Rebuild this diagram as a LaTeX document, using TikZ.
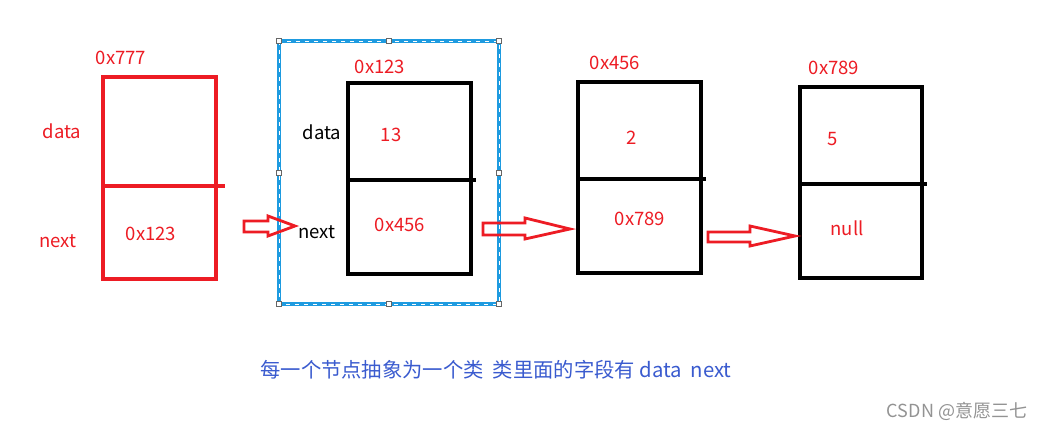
\documentclass[tikz,border=0pt]{standalone}
\usepackage{fontspec}
\setmainfont{Noto Sans CJK SC}
\begin{document}
\begin{tikzpicture}[x=1pt,y=-1pt,
  lbl/.style={inner sep=0pt,font=\fontsize{18.5}{22}\selectfont},
  redt/.style={lbl,text=myred},
  box/.style={draw,line width=3.3pt,inner sep=0pt},
  harrow/.style={draw=myred,line width=2.8pt,line join=miter},
  handle/.style={draw=gray!80!black,fill=white,line width=0.7pt,minimum size=5pt,inner sep=0pt}]
\definecolor{myred}{HTML}{ED1C24}
\definecolor{myblue}{HTML}{3A5BCF}
\definecolor{selblue}{HTML}{1E9BE0}
\useasboundingbox (0,0) rectangle (1048,431);
\fill[white] (0,0) rectangle (1048,431);

% selection frame
\draw[selblue,line width=3.2pt] (279,41) rectangle (499,304);
\draw[white,line width=0.7pt,dash pattern=on 4pt off 5pt] (279,41) rectangle (499,304);
\foreach \p [count=\i] in {(279,41),(389,41),(499,41),(279,173),(499,173),(279,304),(389,304),(499,304)}
  \node[handle] (h\i) at \p {};

% box 1 (red)
\node[box,draw=myred,minimum width=113pt,minimum height=202pt] (b1) at (159.5,178) {};
\draw[myred,line width=3.3pt] (b1.west |- 0,186) -- (225,186);
\node[redt] (a1) at (121,58) {0x777};
\node[redt] (d1) at (62,131) {data};
\node[redt] (n1) at (58,241) {next};
\node[redt] (v1) at (151,234) {0x123};

% box 2
\node[box,minimum width=123pt,minimum height=191pt] (b2) at (409.5,178.5) {};
\draw[line width=3.3pt] (b2.west |- 0,180) -- (476,180);
\node[redt] (a2) at (380,67) {0x123};
\node[lbl] (d2) at (322,132) {data};
\node[redt] (v2a) at (391,135) {13};
\node[lbl] (n2) at (317,232) {next};
\node[redt] (v2b) at (400,225) {0x456};

% box 3
\node[box,minimum width=123pt,minimum height=191pt] (b3) at (639.5,177.5) {};
\draw[line width=3.3pt] (b3.west |- 0,179) -- (706,179);
\node[redt] (a3) at (615,63) {0x456};
\node[redt] (v3a) at (632,138) {2};
\node[redt] (v3b) at (640,219) {0x789};

% box 4
\node[box,minimum width=122pt,minimum height=191pt] (b4) at (861,182.5) {};
\draw[line width=3.3pt] (b4.west |- 0,184) -- (927,184);
\node[redt] (a4) at (834,68) {0x789};
\node[redt] (v4a) at (833,139) {5};
\node[redt] (v4b) at (847,228) {null};

% hollow arrows
\draw[harrow] (244,221) -- (268,221) -- (268,216) -- (295,226) -- (268,236) -- (268,232) -- (244,232) -- cycle;
\draw[harrow] (483,223) -- (525,223) -- (525,218) -- (570,229) -- (525,239) -- (525,235) -- (483,235) -- cycle;
\draw[harrow] (708,232) -- (750,232) -- (750,226) -- (795,236) -- (750,246) -- (750,242) -- (708,242) -- cycle;

% caption
\node[inner sep=0pt,text=myblue,font=\fontsize{20.3}{24}\selectfont] (cap) at (496,370) {每一个节点抽象为一个类\ \ 类里面的字段有 data\ \ next};
\node[inner sep=0pt,text=gray!85,font=\fontsize{18}{21}\selectfont] (wm) at (957,411) {CSDN @意愿三七};
\end{tikzpicture}
\end{document}
